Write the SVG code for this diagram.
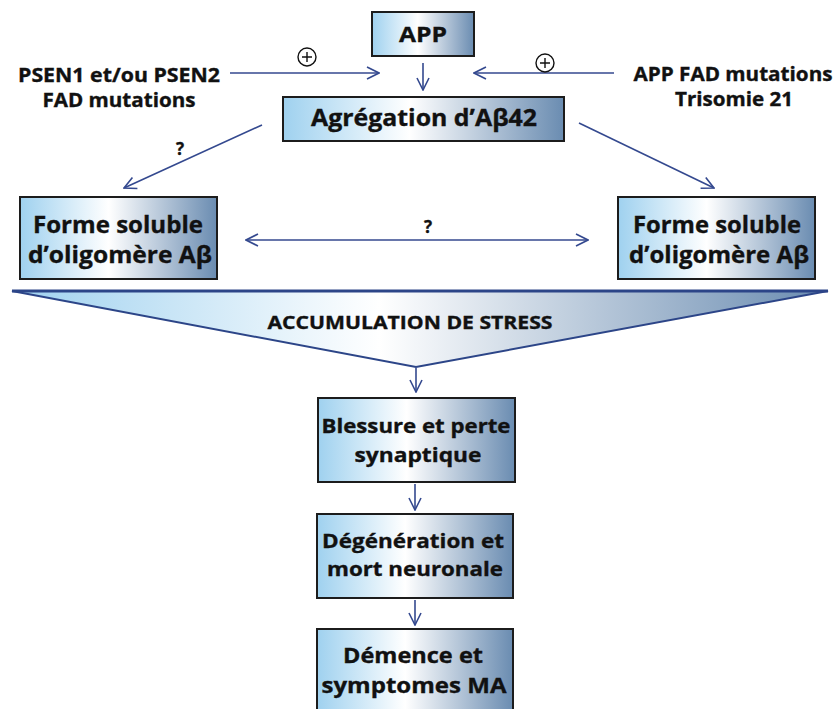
<svg xmlns="http://www.w3.org/2000/svg" width="838" height="709" viewBox="0 0 838 709">
<defs>
<linearGradient id="g" x1="0" y1="0" x2="1" y2="0">
<stop offset="0" stop-color="#9fd1ef"/>
<stop offset="0.45" stop-color="#ffffff"/>
<stop offset="1" stop-color="#6a8cb1"/>
</linearGradient>
<marker id="a" viewBox="0 0 14 14" refX="13" refY="7" markerWidth="14" markerHeight="14" markerUnits="userSpaceOnUse" orient="auto-start-reverse">
<path d="M1,1 L13,7 L1,13" fill="none" stroke="#34498f" stroke-width="1.6"/>
</marker>
<style>
.box{fill:url(#g);stroke:#1c1c1c;stroke-width:2}
.t{font-family:"Open Sans","Noto Sans",sans-serif;font-weight:bold;fill:#111;stroke:#111;stroke-width:0.35;text-anchor:middle}
.c{fill:none;stroke:#34498f;stroke-width:1.6;marker-end:url(#a)}
.pl{fill:none;stroke:#111;stroke-width:1.4}
</style>
</defs>
<g id="app"><rect class="box" x="372" y="12" width="102" height="44"/><text class="t" x="423" y="42" font-size="22" textLength="48" lengthAdjust="spacingAndGlyphs">APP</text></g>
<g id="agregation"><rect class="box" x="283" y="97" width="281" height="44"/><text class="t" x="424" y="126" font-size="23" textLength="226" lengthAdjust="spacingAndGlyphs">Agrégation d’Aβ42</text></g>
<g id="psen"><text class="t" x="119" y="82" font-size="19" textLength="202" lengthAdjust="spacingAndGlyphs">PSEN1 et/ou PSEN2</text><text class="t" x="119" y="107" font-size="19" textLength="153" lengthAdjust="spacingAndGlyphs">FAD mutations</text></g>
<g id="appfad"><text class="t" x="733" y="81" font-size="19" textLength="199" lengthAdjust="spacingAndGlyphs">APP FAD mutations</text><text class="t" x="734" y="106" font-size="19" textLength="118" lengthAdjust="spacingAndGlyphs">Trisomie 21</text></g>
<g id="forme-gauche"><rect class="box" x="20" y="197" width="197" height="82"/><text class="t" x="118" y="233" font-size="24" textLength="170" lengthAdjust="spacingAndGlyphs">Forme soluble</text><text class="t" x="120" y="263" font-size="24" textLength="184" lengthAdjust="spacingAndGlyphs">d’oligomère Aβ</text></g>
<g id="forme-droite"><rect class="box" x="618" y="197" width="197" height="82"/><text class="t" x="717" y="233" font-size="24" textLength="168" lengthAdjust="spacingAndGlyphs">Forme soluble</text><text class="t" x="719" y="263" font-size="24" textLength="180" lengthAdjust="spacingAndGlyphs">d’oligomère Aβ</text></g>
<g id="accumulation"><polygon points="12,291 828,291 416,367" fill="url(#g)" stroke="#2c4588" stroke-width="2"/><line x1="12" y1="291" x2="828" y2="291" stroke="#2c4588" stroke-width="3"/><text class="t" x="410" y="329" font-size="18" textLength="285" lengthAdjust="spacingAndGlyphs">ACCUMULATION DE STRESS</text></g>
<g id="blessure"><rect class="box" x="318" y="398" width="197" height="84"/><text class="t" x="416" y="433" font-size="20" textLength="189" lengthAdjust="spacingAndGlyphs">Blessure et perte</text><text class="t" x="418" y="462" font-size="20" textLength="127" lengthAdjust="spacingAndGlyphs">synaptique</text></g>
<g id="degeneration"><rect class="box" x="317" y="514" width="196" height="84"/><text class="t" x="413" y="548" font-size="20" textLength="182" lengthAdjust="spacingAndGlyphs">Dégénération et</text><text class="t" x="415" y="576" font-size="20" textLength="176" lengthAdjust="spacingAndGlyphs">mort neuronale</text></g>
<g id="demence"><rect class="box" x="317" y="629" width="196" height="90"/><text class="t" x="413" y="663" font-size="22" textLength="140" lengthAdjust="spacingAndGlyphs">Démence et</text><text class="t" x="414" y="693" font-size="22" textLength="185" lengthAdjust="spacingAndGlyphs">symptomes MA</text></g>
<g id="connectors">
<line class="c" x1="423" y1="63" x2="423" y2="90"/>
<line class="c" x1="230" y1="73" x2="379" y2="73"/>
<line class="c" x1="614" y1="73" x2="474" y2="73"/>
<circle class="pl" cx="307" cy="57" r="9"/><path class="pl" d="M302,57 H312 M307,52 V62"/>
<circle class="pl" cx="545" cy="63" r="9"/><path class="pl" d="M540,63 H550 M545,58 V68"/>
<line class="c" x1="262" y1="125" x2="124" y2="188"/>
<text class="t" x="180" y="155" font-size="17">?</text>
<line class="c" x1="579" y1="123" x2="714" y2="188"/>
<line class="c" x1="246" y1="240" x2="588" y2="240" marker-start="url(#a)"/>
<text class="t" x="428" y="233" font-size="17">?</text>
<line class="c" x1="416" y1="368" x2="416" y2="392"/>
<line class="c" x1="415" y1="484" x2="415" y2="510"/>
<line class="c" x1="415" y1="600" x2="415" y2="625"/>
</g>
</svg>
